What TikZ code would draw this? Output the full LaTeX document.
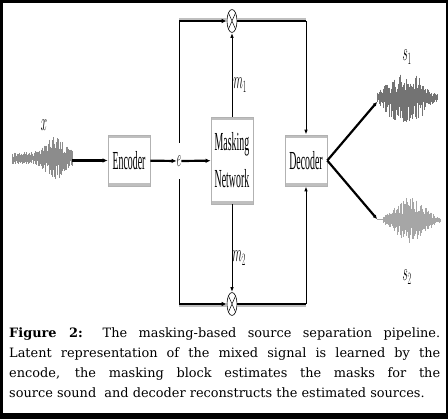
\documentclass[tikz,border=0pt]{standalone}
\usepackage{fontspec}
\setmainfont{Liberation Serif}
\newfontfamily\capfont{DejaVu Serif}
\usepackage{graphicx}
\usetikzlibrary{arrows.meta, positioning, calc, shapes.geometric}

\newcommand{\squeeze}[1]{\scalebox{0.38}[1]{#1}}

\tikzset{
  box/.style={draw=gray!60, line width=0.6pt, fill=white, minimum width=42pt, minimum height=51pt,
    inner sep=0pt, font=\fontsize{26}{37}\selectfont, align=center,
    path picture={
      \fill[gray!50] (path picture bounding box.north west) rectangle ([yshift=-3pt]path picture bounding box.north east);
      \fill[gray!50] (path picture bounding box.south west) rectangle ([yshift=3pt]path picture bounding box.south east);}},
  mult/.style={ellipse, draw, line width=0.6pt, minimum width=10pt, minimum height=23pt, inner sep=0pt,
    path picture={\draw[line width=0.5pt] (path picture bounding box.north west) -- (path picture bounding box.south east)
      (path picture bounding box.north east) -- (path picture bounding box.south west);}},
  lbl/.style={inner sep=0pt, font=\fontsize{24}{26}\selectfont},
  fat/.style={line width=2.2pt, -{Latex[length=5pt,width=4.5pt]}},
  slim/.style={line width=1pt, -{Latex[length=5pt,width=3.5pt]}},
  rail/.style={line width=2.4pt},
  railshade/.style={line width=2pt, draw=gray!50},
  wave/.style={line width=0.35pt, draw=black!45},
}

\begin{document}
\begin{tikzpicture}[x=1pt, y=-1pt]

  % frame
  \useasboundingbox (0,0) rectangle (448,419);
  \fill[black] (0,0) rectangle (448,419);
  \fill[white] (3,3) rectangle (445.5,413);

  % blocks
  \node[box] (enc) at (129,160.5) {\squeeze{Encoder}};
  \node[box, minimum height=87pt] (mask) at (232,160.5) {\squeeze{Masking}\\\squeeze{Network}};
  \node[box] (dec) at (306,160.5) {\squeeze{Decoder}};
  \node[lbl, minimum height=36pt] (e) at (179,161) {\squeeze{$e$}};

  % multipliers
  \node[mult] (mt) at (232,21) {};
  \node[mult] (mb) at (232,304) {};

  % labels
  \node[lbl] (xlab) at (44,125) {\scalebox{0.45}[1]{$x$}};
  \node[lbl] (m1) at (240,85) {\scalebox{0.45}[1]{$m_1$}};
  \node[lbl] (m2) at (239,258) {\scalebox{0.45}[1]{$m_2$}};
  \node[lbl] (s1) at (407,57) {\scalebox{0.45}[1]{$s_1$}};
  \node[lbl] (s2) at (407,277) {\scalebox{0.45}[1]{$s_2$}};

  % free ends
  \coordinate (xw) at (72,160.5);
  \coordinate (tl) at (e|-mt);
  \coordinate (bl) at (e|-mb);
  \coordinate (tr) at (dec|-mt);
  \coordinate (br) at (dec|-mb);
  \coordinate (s1w) at (377,102);
  \coordinate (s2w) at (377,219);

  % waveforms
  \pgfmathsetseed{12}
  \draw[gray!70, line width=0.4pt] (12,158) -- (72,158);
  \foreach \i in {0,...,100}{
    \pgfmathsetmacro{\px}{12+\i*0.6}
    \pgfmathsetmacro{\amp}{6+16*exp(-((\px-55)/12)^2)}
    \pgfmathsetmacro{\hi}{\amp*(0.2+0.8*rnd)}
    \pgfmathsetmacro{\lo}{\amp*(0.2+0.8*rnd)}
    \draw[wave] (\px,158-\hi) -- (\px,158+\lo);
  }
  \draw[gray!70, line width=0.4pt] (377,98) -- (438,98);
  \foreach \i in {0,...,100}{
    \pgfmathsetmacro{\px}{377+\i*0.6}
    \pgfmathsetmacro{\amp}{4+20*exp(-(((\px-405)/22)^2)^2)}
    \pgfmathsetmacro{\hi}{\amp*(0.2+0.8*rnd)}
    \pgfmathsetmacro{\lo}{\amp*(0.2+0.8*rnd)}
    \draw[wave, draw=black!55] (\px,98-\hi) -- (\px,98+\lo);
  }
  \draw[gray!70, line width=0.4pt] (s2w) -- (440,219);
  \foreach \i in {0,...,95}{
    \pgfmathsetmacro{\px}{383+\i*0.6}
    \pgfmathsetmacro{\amp}{3+22*max(0,1-abs(\px-410)/27)}
    \pgfmathsetmacro{\hi}{\amp*(0.3+0.7*rnd)}
    \pgfmathsetmacro{\lo}{\amp*(0.3+0.7*rnd)}
    \draw[wave, draw=black!35] (\px,220-\hi) -- (\px,220+\lo);
  }

  % main chain
  \draw[fat] (xw) -- (enc);
  \draw[fat] (enc) -- (e);
  \draw[fat] (e) -- (mask);

  % masks
  \draw[slim] (mask) -- (mt);
  \draw[slim] (mask) -- (mb);

  % skip paths
  \draw[line width=0.8pt] (e.north) -- (tl);
  \draw[line width=0.8pt] (e.south) -- (bl);
  \draw[railshade] ([yshift=1.6pt]tl) -- ([yshift=1.6pt]mt.west);
  \draw[railshade] ([yshift=1.6pt]mt.east) -- ([yshift=1.6pt]tr);
  \draw[railshade] ([yshift=-1.6pt]bl) -- ([yshift=-1.6pt]mb.west);
  \draw[railshade] ([yshift=-1.6pt]mb.east) -- ([yshift=-1.6pt]br);
  \draw[rail, -{Latex[length=5pt,width=4.5pt]}] (tl) -- (mt);
  \draw[rail, -{Latex[length=5pt,width=4.5pt]}] (bl) -- (mb);
  \draw[rail] (mt) -- (tr);
  \draw[rail] (mb) -- (br);
  \draw[slim] (tr) -- (dec);
  \draw[slim] (br) -- (dec);

  % outputs
  \draw[fat, -{Latex[length=4pt,width=4pt]}] (dec.east) -- (s1w);
  \draw[fat, -{Latex[length=4pt,width=4pt]}] (dec.east) -- (s2w);

  % caption
  \node[anchor=north west, inner sep=0pt, text width=431pt, align=justify,
        font=\capfont\fontsize{12.9}{20}\selectfont] (cap) at (9,328)
    {\textbf{Figure 2:} The masking-based source separation pipeline.\linebreak
     Latent representation of the mixed signal is learned by the\linebreak
     encode, the masking block estimates the masks for the\linebreak
     source sound\ \ and decoder reconstructs the estimated sources.};

\end{tikzpicture}
\end{document}
